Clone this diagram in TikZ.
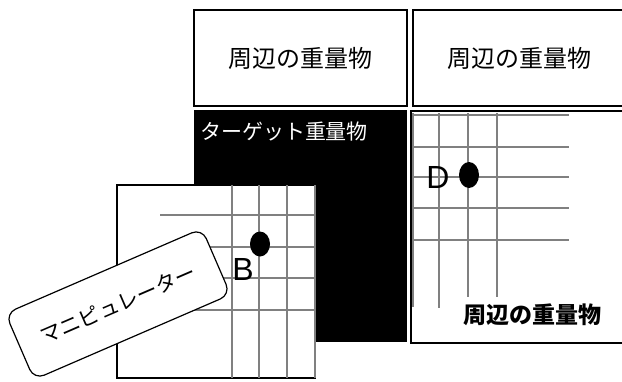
\documentclass[tikz,border=0pt]{standalone}
\usepackage{fontspec}
\newfontfamily\jp{Noto Sans CJK JP}
\newfontfamily\lat{Liberation Sans}
\begin{document}
\begin{tikzpicture}[x=1pt,y=-1pt,
  box/.style={draw=black,line width=2pt,fill=white},
  gridline/.style={draw=black!50,line width=2pt},
  topbox/.style={font=\jp\fontsize{24}{28}\selectfont},
  letter/.style={font=\lat\fontsize{32}{34}\selectfont,inner sep=0pt}]
\useasboundingbox (0,0) rectangle (622,381);
\clip (0,0) rectangle (622,381);
% top boxes
\draw[box] (194,10) rectangle (407,106);
\draw[box] (413,10) rectangle (630,106);
\node[topbox] (t1) at (300,58) {周辺の重量物};
\node[topbox] (t2) at (519,58) {周辺の重量物};
% black target
\fill[black] (194,110) rectangle (407,342);
\node[font=\jp\fontsize{21}{24}\selectfont,text=white] (tg) at (284,132) {ターゲット重量物};
% right box
\draw[box] (411,111) rectangle (630,343);
\foreach \y in {115,147,177,208,240} \draw[gridline] (413,\y) -- (569,\y);
\draw[gridline] (413,113) -- (413,307);
\draw[gridline] (439,113) -- (439,308);
\draw[gridline] (468,113) -- (468,297);
\draw[gridline] (497,113) -- (497,297);
\node[letter] (D) at (438,177) {D};
\fill (469,175) ellipse [x radius=10, y radius=13];
\node[font=\jp\bfseries\fontsize{23}{26}\selectfont] (t3) at (532,315) {周辺の重量物};
% white square
\draw[draw=black,line width=1.5pt,fill=white] (117,185) rectangle (315,378);
\foreach \y in {215,247,278,310} \draw[gridline] (160,\y) -- (315,\y);
\foreach \x in {232,259,287,315} \draw[gridline] (\x,185) -- (\x,378);
\node[letter] (B) at (243,269) {B};
\fill (260,244) ellipse [x radius=10, y radius=12.5];
% manipulator
\node[draw=black,line width=1.2pt,fill=white,rounded corners=11pt,minimum width=214pt,minimum height=72pt,rotate=23.4,font=\jp\fontsize{21}{24}\selectfont] (manip) at (118,304) {マニピュレーター};
\end{tikzpicture}
\end{document}
